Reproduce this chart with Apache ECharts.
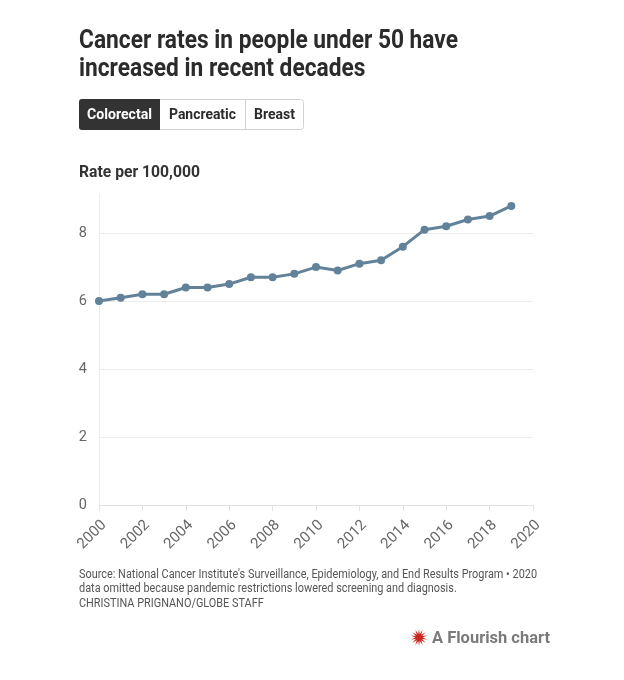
<!DOCTYPE html>
<html>
<head>
<meta charset="utf-8">
<script src="https://cdn.jsdelivr.net/npm/echarts@6/dist/echarts.min.js"></script>
<style>
html,body{margin:0;padding:0;background:#fff;}
#chart{width:624px;height:680px;}
</style>
</head>
<body>
<div id="chart"></div>
<script>
var years = [2000,2001,2002,2003,2004,2005,2006,2007,2008,2009,2010,2011,2012,2013,2014,2015,2016,2017,2018,2019];
var colorectal = [6.0,6.1,6.2,6.2,6.4,6.4,6.5,6.7,6.7,6.8,7.0,6.9,7.1,7.2,7.6,8.1,8.2,8.4,8.5,8.8];
var yTicks = [0,2,4,6,8];
var xTicks = [2000,2002,2004,2006,2008,2010,2012,2014,2016,2018,2020];
var titleLines = ['Cancer rates in people under 50 have','increased in recent decades'];
var buttons = ['Colorectal','Pancreatic','Breast'];
var axisTitle = 'Rate per 100,000';
var sourceLines = ["Source: National Cancer Institute's Surveillance, Epidemiology, and End Results Program \u2022 2020",
  "data omitted because pandemic restrictions lowered screening and diagnosis.",
  "CHRISTINA PRIGNANO/GLOBE STAFF"];
var brand = 'A Flourish chart';

var FONT = 'Roboto, "Noto Sans", sans-serif';
var mctx = document.createElement('canvas').getContext('2d');
function widthOf(text, font) { mctx.font = font; return mctx.measureText(text).width; }

function starPoints(cx, cy, r1, r2, n) {
  var pts = [];
  for (var i = 0; i < n * 2; i++) {
    var r = i % 2 === 0 ? r1 : r2;
    var a = Math.PI * i / n - Math.PI / 2;
    pts.push([cx + r * Math.cos(a), cy + r * Math.sin(a)]);
  }
  return pts;
}

var graphics = [];
// title
var titleFont = 'bold 25px ' + FONT;
var titleScale = 379 / widthOf(titleLines[0], titleFont);
[42, 69.5].forEach(function (cy, i) {
  graphics.push({type:'text', x:79, y:cy, scaleX:titleScale,
    style:{text:titleLines[i], fill:'#2b2b2b', font:titleFont, textAlign:'left', textVerticalAlign:'middle'}});
});

// buttons
var btnX = [79, 160, 245, 304];
var btnTextW = [65, 67, 41];
graphics.push({type:'rect', shape:{x:79.5,y:99.5,width:224,height:30,r:3}, style:{fill:'#fff',stroke:'#d2d2d2',lineWidth:1}});
graphics.push({type:'rect', shape:{x:79,y:99,width:81,height:31,r:[3,0,0,3]}, style:{fill:'#333333'}});
graphics.push({type:'line', shape:{x1:245.5,y1:100,x2:245.5,y2:129}, style:{stroke:'#d2d2d2',lineWidth:1}});
var btnFont = 'bold 15.5px ' + FONT;
for (var i = 0; i < buttons.length; i++) {
  var sc = btnTextW[i] / widthOf(buttons[i], btnFont);
  graphics.push({type:'text', x:(btnX[i]+btnX[i+1])/2, y:115, scaleX:sc,
    style:{text:buttons[i], fill: i===0?'#fff':'#2b2b2b', font:btnFont, textAlign:'center', textVerticalAlign:'middle'}});
}

// axis title
var atFont = 'bold 16.5px ' + FONT;
graphics.push({type:'text', x:79, y:173, scaleX:121/widthOf(axisTitle, atFont),
  style:{text:axisTitle, fill:'#333', font:atFont, textAlign:'left', textVerticalAlign:'middle'}});

// source
var srcFont = '12.3px ' + FONT;
var srcScale = 458 / widthOf(sourceLines[0], srcFont);
[574.5, 589, 603.5].forEach(function (cy, i) {
  graphics.push({type:'text', x:79, y:cy, scaleX:srcScale,
    style:{text:sourceLines[i], fill:'#555', font:srcFont, textAlign:'left', textVerticalAlign:'middle'}});
});

// brand
graphics.push({type:'polygon', shape:{points:starPoints(419,637.5,8.5,3.5,14)}, style:{fill:'#c8281e'}});
var brFont = 'bold 16.5px ' + FONT;
graphics.push({type:'text', x:432, y:639, scaleX:118/widthOf(brand, brFont),
  style:{text:brand, fill:'#7a7a7a', font:brFont, textAlign:'left', textVerticalAlign:'middle'}});

var chart = echarts.init(document.getElementById('chart'), null, {renderer:'canvas'});
chart.setOption({
  backgroundColor:'#fff',
  animation:false,
  graphic: graphics,
  grid:[
    {left:99, right:91, top:194, bottom:175, containLabel:false},
    {left:104, right:86, top:194, bottom:175, containLabel:false}
  ],
  xAxis:[{
    type:'value', min:2000, max:2020, interval:2, gridIndex:0,
    axisLine:{show:true, lineStyle:{color:'#e2e2e2', width:1}},
    axisTick:{show:true, length:6, lineStyle:{color:'#e2e2e2'}},
    axisLabel:{show:false},
    splitLine:{show:false}
  },{
    type:'value', min:2000, max:2020, interval:2, gridIndex:1,
    axisLine:{show:false}, axisTick:{show:false}, splitLine:{show:false},
    axisLabel:{rotate:45, color:'#666', fontFamily:FONT, fontSize:15, margin:18,
      formatter:function(v){return xTicks.indexOf(v)>=0?String(v):'';}}
  }],
  yAxis:[{
    type:'value', min:0, max:9.15, interval:2, gridIndex:0,
    axisLine:{show:true, lineStyle:{color:'#ececec', width:1}},
    axisTick:{show:false},
    axisLabel:{color:'#666', fontFamily:FONT, fontSize:14.5, margin:12, showMaxLabel:false,
      formatter:function(v){return yTicks.indexOf(v)>=0?String(v):'';}},
    splitLine:{show:true, showMaxLine:false, lineStyle:{color:'#ececec', width:1}}
  },{
    type:'value', min:0, max:9.15, gridIndex:1, show:false
  }],
  series:[{
    type:'line', xAxisIndex:0, yAxisIndex:0,
    data: years.map(function(y,i){return [y, colorectal[i]];}),
    symbol:'circle', symbolSize:8,
    lineStyle:{color:'#62829a', width:3},
    itemStyle:{color:'#62829a'},
    z:5
  }]
});
</script>
</body>
</html>
